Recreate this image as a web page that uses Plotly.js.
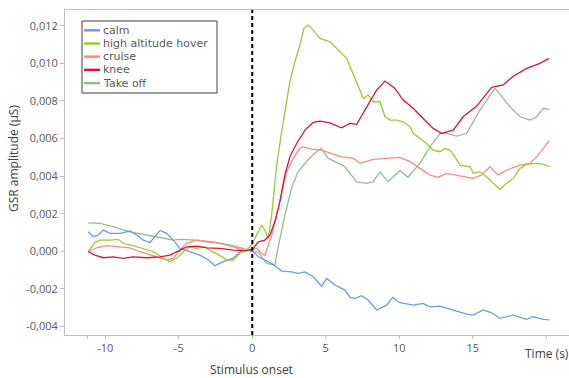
<!DOCTYPE html>
<html>
<head>
<meta charset="utf-8">
<script src="https://cdn.plot.ly/plotly-3.0.1.min.js"></script>
<style>html,body{margin:0;padding:0;background:#fff;}#chart{width:569px;height:378px;}</style>
</head>
<body>
<div id="chart"></div>
<script>
// ---- Data ----
const seriesNames = ['calm', 'high altitude hover', 'cruise', 'knee', 'Take off'];
const seriesColors = ['#6d9beb', '#97cc34', '#fd8a7e', '#dc143c', '#8fbf8c'];

const calmX = [-11.16,-10.82,-10.48,-10.14,-9.68,-9.00,-8.32,-7.86,-7.41,-6.96,-6.62,-6.28,-5.82,-5.37,-4.92,-4.24,-3.56,-2.99,-2.54,-1.97,-1.29,-0.84,-0.38,0.07,0.41,0.86,1.32,2.00,2.68,3.13,3.59,4.15,4.72,5.06,5.63,6.31,6.65,6.99,7.44,7.89,8.46,9.14,9.55,10.05,10.95,11.63,12.09,12.77,13.67,14.59,15.03,15.71,16.29,16.85,17.76,18.67,19.12,19.80,20.20];
const calmY = [0.00104,0.00078,0.00087,0.00113,0.00096,0.00096,0.00108,0.00087,0.00060,0.00047,0.00078,0.00111,0.00096,0.00060,0.00016,-0.00002,-0.00020,-0.00046,-0.00076,-0.00055,-0.00036,-0.00002,0.00007,-0.00002,-0.00029,-0.00046,-0.00064,-0.00105,-0.00109,-0.00117,-0.00109,-0.00135,-0.00185,-0.00144,-0.00179,-0.00206,-0.00245,-0.00250,-0.00236,-0.00259,-0.00312,-0.00286,-0.00245,-0.00273,-0.00286,-0.00277,-0.00295,-0.00291,-0.00312,-0.00334,-0.00339,-0.00312,-0.00327,-0.00356,-0.00339,-0.00362,-0.00348,-0.00362,-0.00365];

const hoverX = [-11.16,-10.70,-10.36,-9.68,-9.12,-8.78,-8.10,-7.41,-6.73,-6.05,-5.60,-5.14,-4.69,-4.24,-3.78,-3.22,-2.76,-2.42,-1.74,-1.29,-0.84,-0.38,-0.04,0.30,0.64,0.86,1.09,1.32,1.66,2.00,2.34,2.56,2.90,3.24,3.52,3.81,4.15,4.61,5.29,5.85,6.42,6.76,7.21,7.55,7.89,8.23,8.69,9.03,9.37,9.82,10.27,10.73,10.95,11.41,11.86,12.31,12.77,13.11,13.45,13.79,14.14,14.82,15.03,15.49,15.95,16.39,16.85,17.31,17.76,18.21,18.67,19.35,19.80,20.25];
const hoverY = [-0.00002,0.00048,0.00060,0.00060,0.00064,0.00043,0.00031,0.00016,-0.00002,-0.00037,-0.00055,-0.00037,-0.00002,0.00024,0.00016,0.00024,-0.00002,-0.00011,-0.00046,-0.00046,-0.00011,0.00007,0.00034,0.00087,0.00140,0.00113,0.00069,0.00193,0.00459,0.00636,0.00784,0.00902,0.01009,0.01097,0.01188,0.01204,0.01177,0.01133,0.01115,0.01071,0.01027,0.00964,0.00876,0.00814,0.00831,0.00796,0.00796,0.00716,0.00698,0.00698,0.00689,0.00663,0.00628,0.00601,0.00574,0.00539,0.00530,0.00548,0.00539,0.00503,0.00459,0.00450,0.00415,0.00423,0.00397,0.00362,0.00330,0.00362,0.00388,0.00441,0.00464,0.00468,0.00464,0.00450];

const cruiseX = [-11.16,-10.59,-9.90,-9.22,-8.32,-7.64,-6.96,-6.28,-5.82,-5.37,-4.92,-4.46,-3.78,-3.10,-2.20,-1.29,-0.61,-0.04,0.30,0.64,0.86,1.09,1.32,1.66,2.00,2.34,2.79,3.24,3.47,4.04,4.72,5.40,6.08,6.87,7.33,8.23,9.14,10.05,10.73,11.41,12.09,12.65,13.22,14.12,15.03,15.61,16.17,16.73,17.31,18.21,18.90,19.35,19.80,20.20];
const cruiseY = [-0.00002,0.00019,0.00030,0.00024,0.00019,-0.00002,-0.00020,-0.00037,-0.00046,-0.00037,0.00007,0.00043,0.00060,0.00051,0.00043,0.00024,0.00007,0.00007,0.00016,-0.00011,-0.00022,0.00034,0.00087,0.00193,0.00317,0.00423,0.00495,0.00548,0.00556,0.00544,0.00539,0.00521,0.00503,0.00495,0.00468,0.00489,0.00495,0.00500,0.00477,0.00441,0.00406,0.00394,0.00415,0.00401,0.00388,0.00406,0.00450,0.00406,0.00432,0.00459,0.00468,0.00503,0.00548,0.00588];

const kneeX = [-11.16,-10.70,-10.14,-9.46,-8.78,-8.10,-7.18,-6.28,-5.60,-4.92,-4.46,-3.78,-3.10,-2.20,-1.29,-0.38,0.07,0.41,0.86,1.20,1.54,1.88,2.22,2.56,3.02,3.59,4.15,4.61,5.29,6.08,6.65,7.10,7.78,8.46,9.03,9.71,10.27,10.95,11.63,12.31,12.88,13.67,14.35,15.27,16.29,17.07,17.76,18.67,19.57,20.20];
const kneeY = [-0.00002,-0.00020,-0.00034,-0.00029,-0.00037,-0.00029,-0.00034,-0.00029,-0.00020,0.00007,0.00024,0.00028,0.00019,0.00016,0.00007,0.00003,0.00016,0.00051,0.00060,0.00087,0.00157,0.00264,0.00406,0.00503,0.00574,0.00645,0.00686,0.00693,0.00684,0.00657,0.00681,0.00676,0.00769,0.00858,0.00906,0.00867,0.00805,0.00761,0.00707,0.00654,0.00628,0.00645,0.00716,0.00773,0.00872,0.00885,0.00932,0.00973,0.01000,0.01027];

const takeoffX = [-11.16,-10.36,-9.48,-8.33,-7.18,-5.82,-5.39,-4.92,-3.78,-2.67,-1.52,-0.63,0.05,0.39,0.98,1.54,1.75,2.22,2.68,3.11,3.79,4.27,4.69,5.16,5.83,6.31,7.10,7.78,8.21,8.69,9.23,10.05,10.59,11.41,12.09,12.77,13.22,13.90,14.59,15.49,16.52,17.54,18.22,18.90,19.35,19.80,20.20];
const takeoffY = [0.00152,0.00149,0.00131,0.00104,0.00087,0.00069,0.00060,0.00064,0.00060,0.00051,0.00034,0.00016,-0.00002,-0.00004,-0.00064,-0.00073,0.00018,0.00193,0.00337,0.00423,0.00486,0.00523,0.00548,0.00496,0.00470,0.00450,0.00370,0.00362,0.00370,0.00423,0.00370,0.00429,0.00394,0.00468,0.00556,0.00628,0.00628,0.00613,0.00628,0.00752,0.00867,0.00769,0.00716,0.00698,0.00716,0.00761,0.00755];

const xTickVals = [-11.2, -10, -5, 0, 5, 10, 15, 20];
const xTickText = ['', '-10', '-5', '0', '5', '10', '15', ''];
const yTickVals = [-0.004, -0.002, 0, 0.002, 0.004, 0.006, 0.008, 0.010, 0.012];
const yTickText = ['-0,004', '-0,002', '0,000', '0,002', '0,004', '0,006', '0,008', '0,010', '0,012'];

const yTitle = 'GSR amplitude (µS)';
const xTitle = 'Time (s)';
const onsetLabel = 'Stimulus onset';

// ---- Build ----
const xs = [calmX, hoverX, cruiseX, kneeX, takeoffX];
const ys = [calmY, hoverY, cruiseY, kneeY, takeoffY];
const order = [4, 2, 0, 1, 3];
const traces = order.map(i => ({
  x: xs[i], y: ys[i], type: 'scatter', mode: 'lines', name: seriesNames[i],
  line: {color: seriesColors[i], width: 1.3}, showlegend: false, hoverinfo: 'skip'
}));

const W = 569, H = 378, L = 65, R = 0, T = 10, B = 43;
const pw = W - L - R, ph = H - T - B;
const px = v => (v - L) / pw;          // pixel x -> paper
const py = v => (H - B - v) / ph;      // pixel y -> paper

const shapes = [
  {type: 'line', xref: 'x', yref: 'paper', x0: 0, x1: 0, y0: 0, y1: 1,
   line: {color: '#000', width: 2, dash: '4px,3px'}},
  {type: 'rect', xref: 'paper', yref: 'paper', x0: px(82), x1: px(217), y0: py(93), y1: py(21),
   line: {color: '#404040', width: 1}, fillcolor: '#fff'}
];
const annotations = [
  {text: yTitle, xref: 'paper', yref: 'paper', x: px(13), y: py(159), textangle: -90,
   showarrow: false, xanchor: 'center', yanchor: 'middle', borderpad: 0, font: {size: 12, color: '#404040'}},
  {text: onsetLabel, xref: 'paper', yref: 'paper', x: px(251), y: py(369), showarrow: false,
   xanchor: 'center', yanchor: 'middle', borderpad: 0, font: {size: 12, color: '#404040'}},
  {text: xTitle, xref: 'paper', yref: 'paper', x: px(547), y: py(353), showarrow: false,
   xanchor: 'center', yanchor: 'middle', borderpad: 0, font: {size: 12, color: '#404040'}}
];
seriesNames.forEach((n, i) => {
  const cy = 30.3 + 13.2 * i;
  shapes.push({type: 'line', xref: 'paper', yref: 'paper', x0: px(84), x1: px(100), y0: py(cy), y1: py(cy),
    line: {color: seriesColors[i], width: 2.5}});
  annotations.push({text: n, xref: 'paper', yref: 'paper', x: px(102), y: py(cy), showarrow: false,
    xanchor: 'left', yanchor: 'middle', borderpad: 0,
    font: {family: '"DejaVu Sans", sans-serif', size: 11, color: '#595959'}});
});

const layout = {
  width: W, height: H,
  margin: {l: L, r: R, t: T, b: B, pad: 0},
  paper_bgcolor: '#fff', plot_bgcolor: '#fff',
  font: {family: '"Open Sans", sans-serif', size: 11, color: '#595959'},
  showlegend: false,
  xaxis: {range: [-12.74, 21.55], showline: true, linecolor: '#bfbfbf', linewidth: 1, mirror: true,
    showgrid: false, zeroline: false, ticks: 'outside', ticklen: 3, tickcolor: '#bfbfbf',
    tickmode: 'array', tickvals: xTickVals, ticktext: xTickText, tickfont: {size: 11, color: '#595959'}},
  yaxis: {range: [-0.00445, 0.01284], showline: true, linecolor: '#bfbfbf', linewidth: 1,
    showgrid: false, zeroline: false, ticks: 'outside', ticklen: 4, tickcolor: '#bfbfbf',
    tickmode: 'array', tickvals: yTickVals, ticktext: yTickText, tickfont: {size: 11, color: '#595959'}},
  shapes: shapes, annotations: annotations
};

Plotly.newPlot('chart', traces, layout, {staticPlot: true, displayModeBar: false});
</script>
</body>
</html>
